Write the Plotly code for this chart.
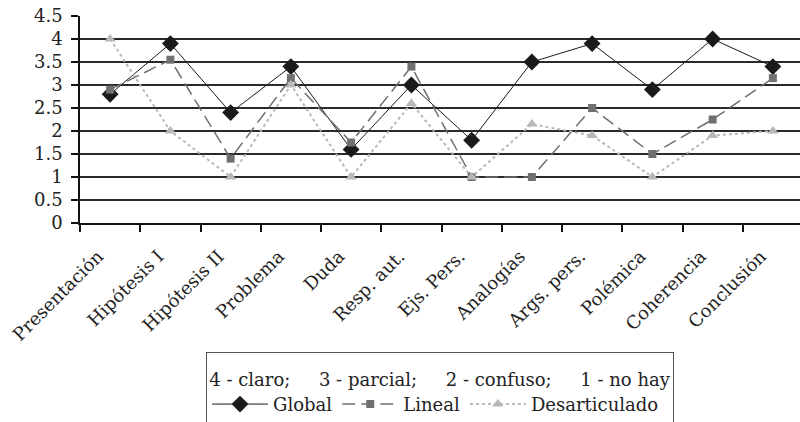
import plotly.graph_objects as go

categories = ["Presentación", "Hipótesis I", "Hipótesis II", "Problema", "Duda",
              "Resp. aut.", "Ejs. Pers.", "Analogías", "Args. pers.", "Polémica",
              "Coherencia", "Conclusión"]
global_vals = [2.8, 3.9, 2.4, 3.4, 1.6, 3.0, 1.8, 3.5, 3.9, 2.9, 4.0, 3.4]
lineal_vals = [2.9, 3.55, 1.4, 3.15, 1.75, 3.4, 1.0, 1.0, 2.5, 1.5, 2.25, 3.15]
desart_vals = [4.0, 2.0, 1.0, 3.0, 1.0, 2.6, 1.0, 2.15, 1.9, 1.0, 1.9, 2.0]
y_ticks = [0, 0.5, 1, 1.5, 2, 2.5, 3, 3.5, 4, 4.5]
y_ticktext = ["0", "0.5", "1", "1.5", "2", "2.5", "3", "3.5", "4", "4.5"]
GAP = "\u00a0" * 5
legend_title = "4 - claro;" + GAP + "3 - parcial;" + GAP + "2 - confuso;" + GAP + "1 - no hay"

FONT = "DejaVu Serif"
FS = 18

fig = go.Figure()
fig.add_trace(go.Scatter(
    x=categories, y=global_vals, name="Global", mode="lines+markers",
    line=dict(color="#1a1a1a", width=1),
    marker=dict(symbol="diamond", size=13, color="#1a1a1a"),
))
fig.add_trace(go.Scatter(
    x=categories, y=lineal_vals, name="Lineal", mode="lines+markers",
    line=dict(color="#707070", width=1.5, dash="13px,6px"),
    marker=dict(symbol="square", size=8, color="#707070"),
))
fig.add_trace(go.Scatter(
    x=categories, y=desart_vals, name="Desarticulado", mode="lines+markers",
    line=dict(color="#b8b8b8", width=2, dash="dot"),
    marker=dict(symbol="triangle-up", size=10, color="#b8b8b8"),
))

fig.update_layout(
    width=800, height=422,
    margin=dict(l=80, r=0, t=16, b=199, autoexpand=False),
    paper_bgcolor="white", plot_bgcolor="white",
    font=dict(family=FONT, size=FS, color="#222222"),
    showlegend=True,
    legend=dict(
        orientation="h", x=0.5, xanchor="center", y=-0.625, yanchor="top",
        bordercolor="#555555", borderwidth=1,
        font=dict(family=FONT, size=FS, color="#222222"),
        title=dict(text="<span style='font-size:18px'>" + legend_title + "</span>",
                   side="top center",
                   font=dict(family=FONT, size=25, color="#222222")),
        itemwidth=56, tracegroupgap=0,
    ),
)
fig.update_xaxes(
    type="category", range=[-0.5, 11.45], automargin=False,
    showline=True, linecolor="#111111", linewidth=1.5,
    ticks="outside", tickson="boundaries", ticklen=7, tickcolor="#111111", tickwidth=1.5,
    tickangle=-45, showgrid=False, ticklabelstandoff=14, ticklabelshift=-12,
    tickfont=dict(family=FONT, size=FS, color="#222222"),
)
fig.update_yaxes(
    range=[0, 4.5], tickvals=y_ticks, ticktext=y_ticktext, automargin=False,
    showline=True, linecolor="#111111", linewidth=1.5,
    ticks="outside", ticklen=7, tickcolor="#111111", tickwidth=1.5,
    showgrid=True, gridcolor="#2a2a2a", gridwidth=1.5,
    zeroline=False, ticklabelstandoff=5,
    tickfont=dict(family=FONT, size=FS, color="#222222"),
)

fig.write_html("out.html")
